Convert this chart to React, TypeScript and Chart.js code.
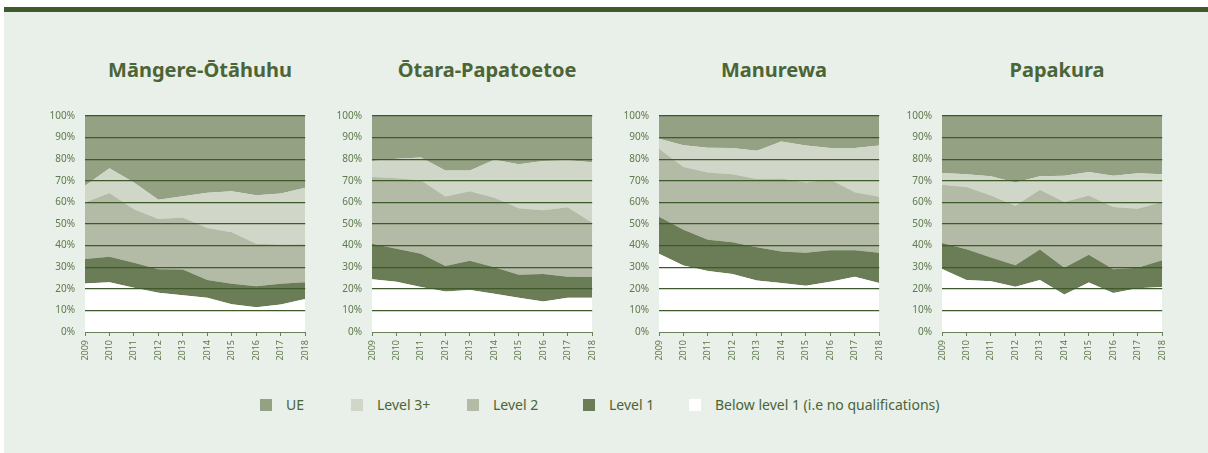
import React, { useEffect, useRef } from "react";
import { Chart, registerables } from "chart.js";

Chart.register(...registerables);

// ---------- data ----------
const years = ["2009", "2010", "2011", "2012", "2013", "2014", "2015", "2016", "2017", "2018"];
const regionNames = ["Māngere-Ōtāhuhu", "Ōtara-Papatoetoe", "Manurewa", "Papakura"];
const seriesNames = ["Below level 1 (i.e no qualifications)", "Level 1", "Level 2", "Level 3+", "UE"];
const legendOrder = ["UE", "Level 3+", "Level 2", "Level 1", "Below level 1 (i.e no qualifications)"];

// Māngere-Ōtāhuhu (% of school leavers)
const mangereBelow = [22.4, 23.0, 20.5, 18.2, 17.0, 15.8, 12.9, 11.5, 12.7, 15.3];
const mangereL1 = [11.4, 11.8, 11.6, 10.9, 11.9, 8.3, 9.4, 9.7, 9.6, 7.7];
const mangereL2 = [26.2, 29.6, 24.7, 23.2, 24.1, 24.1, 23.9, 19.7, 18.2, 17.6];
const mangereL3 = [7.7, 11.4, 12.4, 8.9, 9.9, 16.3, 19.0, 22.4, 23.6, 26.2];
const mangereUE = [32.3, 24.2, 30.8, 38.8, 37.1, 35.5, 34.8, 36.7, 35.9, 33.2];

// Ōtara-Papatoetoe
const otaraBelow = [24.4, 23.3, 20.8, 18.8, 19.5, 17.7, 15.8, 14.1, 15.8, 15.8];
const otaraL1 = [16.5, 15.2, 15.4, 11.8, 13.5, 12.3, 10.7, 12.7, 9.8, 9.7];
const otaraL2 = [30.9, 32.7, 34.0, 32.1, 32.2, 32.1, 30.8, 29.6, 32.1, 25.1];
const otaraL3 = [7.4, 9.0, 10.6, 12.1, 9.6, 17.6, 20.4, 22.8, 21.8, 28.0];
const otaraUE = [20.8, 19.8, 19.2, 25.2, 25.2, 20.3, 22.3, 20.8, 20.5, 21.4];

// Manurewa
const manurewaBelow = [36.2, 30.8, 28.2, 26.8, 23.9, 22.7, 21.4, 23.3, 25.6, 22.7];
const manurewaL1 = [17.1, 16.5, 14.5, 14.7, 15.3, 14.6, 15.3, 14.6, 12.3, 14.0];
const manurewaL2 = [31.5, 29.1, 31.2, 31.5, 31.6, 33.8, 32.5, 32.7, 26.8, 25.9];
const manurewaL3 = [4.7, 10.1, 11.4, 12.2, 13.1, 17.1, 17.2, 14.6, 20.5, 23.8];
const manurewaUE = [10.5, 13.5, 14.7, 14.8, 16.1, 11.8, 13.6, 14.8, 14.8, 13.6];

// Papakura
const papakuraBelow = [29.2, 24.1, 23.5, 20.9, 24.1, 17.4, 22.9, 18.0, 20.2, 20.8];
const papakuraL1 = [12.0, 14.2, 11.0, 10.0, 14.1, 12.3, 12.9, 11.1, 9.5, 12.4];
const papakuraL2 = [27.0, 28.8, 28.7, 27.6, 27.6, 30.5, 27.4, 28.8, 27.4, 27.0];
const papakuraL3 = [5.4, 5.9, 8.9, 10.7, 6.3, 12.1, 10.9, 14.4, 16.4, 12.8];
const papakuraUE = [26.4, 27.0, 27.9, 30.8, 27.9, 27.7, 25.9, 27.7, 26.5, 27.0];

const regionSeries = [
  [mangereBelow, mangereL1, mangereL2, mangereL3, mangereUE],
  [otaraBelow, otaraL1, otaraL2, otaraL3, otaraUE],
  [manurewaBelow, manurewaL1, manurewaL2, manurewaL3, manurewaUE],
  [papakuraBelow, papakuraL1, papakuraL2, papakuraL3, papakuraUE],
];

// ---------- styles ----------
const seriesColors: Record<string, string> = {
  "Below level 1 (i.e no qualifications)": "#ffffff",
  "Level 1": "#6a7d56",
  "Level 2": "#b3bba6",
  "Level 3+": "#d0d7c8",
  UE: "#94a183",
};
const BG = "#e9efe9";
const DARK = "#3f5a2b";
const TEXT = "#4b6536";
const TICK = "#5f7a4c";
const GRID = "#3e5a2a";

const PLOT_LEFTS = [85, 372, 659, 942];
const PLOT_W = 230;
const Y_AXIS_W = 45;
const CANVAS_TOP = 100;
const PAD_TOP = 12;
const X_AXIS_H = 40;
const CANVAS_H = 272;
const CANVAS_W = Y_AXIS_W + PLOT_W + 5;
const LEGEND_LEFTS = [260, 351, 467, 583, 689];

function Panel({ index }: { index: number }) {
  const ref = useRef<HTMLCanvasElement | null>(null);
  useEffect(() => {
    if (!ref.current) return;
    const data = regionSeries[index];
    const chart = new Chart(ref.current, {
      type: "line",
      data: {
        labels: years,
        datasets: seriesNames.map((name, i) => ({
          label: name,
          data: data[i],
          backgroundColor: seriesColors[name],
          borderWidth: 0,
          borderColor: seriesColors[name],
          pointRadius: 0,
          tension: 0,
          fill: i === 0 ? "origin" : "-1",
        })),
      },
      options: {
        animation: false,
        responsive: false,
        devicePixelRatio: 1,
        layout: { padding: { top: PAD_TOP, right: CANVAS_W - Y_AXIS_W - PLOT_W, left: 0, bottom: 0 } },
        plugins: { legend: { display: false }, tooltip: { enabled: false }, title: { display: false } },
        scales: {
          x: {
            z: 1,
            offset: false,
            grid: { z: 1, drawOnChartArea: false, drawTicks: true, tickLength: 4, color: "#6b8057", lineWidth: 1 },
            border: { z: 1, display: true, color: "#6b8057", width: 1 },
            ticks: {
              color: TICK,
              font: { family: "'Noto Sans', sans-serif", size: 9 },
              minRotation: 90,
              maxRotation: 90,
              autoSkip: false,
              padding: 4,
            },
            afterFit: (scale: any) => {
              scale.height = X_AXIS_H;
            },
          },
          y: {
            z: 1,
            stacked: true,
            min: 0,
            max: 100,
            border: { display: false },
            grid: {
              z: 1,
              drawTicks: false,
              lineWidth: 1.3,
              color: (ctx: any) => (ctx.tick && ctx.tick.value === 0 ? "rgba(0,0,0,0)" : GRID),
            },
            ticks: {
              stepSize: 10,
              color: TICK,
              padding: 10,
              font: { family: "'Noto Sans', sans-serif", size: 10 },
              callback: (v: any) => v + "%",
            },
            afterFit: (scale: any) => {
              scale.width = Y_AXIS_W;
            },
          },
        },
      },
    });
    return () => chart.destroy();
  }, [index]);

  const left = PLOT_LEFTS[index];
  return (
    <>
      <div
        style={{
          position: "absolute",
          left,
          top: 57,
          width: PLOT_W,
          textAlign: "center",
          fontFamily: "'Noto Sans', sans-serif",
          fontWeight: 700,
          fontSize: 20,
          lineHeight: "26px",
          color: TEXT,
          whiteSpace: "nowrap",
        }}
      >
        {regionNames[index]}
      </div>
      <canvas
        ref={ref}
        width={CANVAS_W}
        height={CANVAS_H}
        style={{ position: "absolute", left: left - Y_AXIS_W, top: CANVAS_TOP, width: CANVAS_W, height: CANVAS_H }}
      />
    </>
  );
}

export default function App() {
  return (
    <div style={{ position: "absolute", left: 0, top: 0, width: 1208, height: 453, overflow: "hidden", background: "#ffffff" }}>
      <div style={{ position: "absolute", left: 4, top: 7, width: 1204, height: 446, background: BG }} />
      <div style={{ position: "absolute", left: 4, top: 7, width: 1204, height: 5, background: DARK }} />
      {regionNames.map((_, i) => (
        <Panel key={i} index={i} />
      ))}
      {legendOrder.map((name, i) => (
        <div
          key={name}
          style={{
            position: "absolute",
            left: LEGEND_LEFTS[i],
            top: 398,
            height: 14,
            display: "flex",
            alignItems: "center",
            whiteSpace: "nowrap",
          }}
        >
          <div style={{ width: 12, height: 12, background: seriesColors[name], marginRight: 14 }} />
          <span style={{ fontFamily: "'Noto Sans', sans-serif", fontSize: 14, color: TEXT, lineHeight: "14px" }}>{name}</span>
        </div>
      ))}
    </div>
  );
}
